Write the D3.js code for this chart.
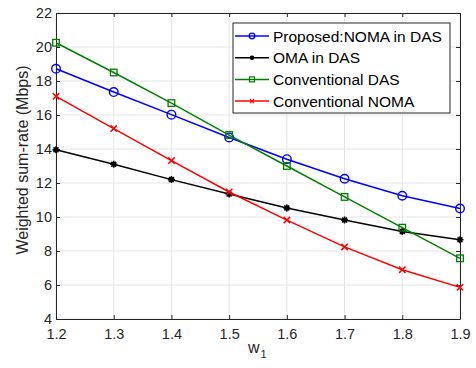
<!DOCTYPE html>
<html>
<head>
<meta charset="utf-8">
<script src="https://cdn.jsdelivr.net/npm/d3@7"></script>
<style>
body { margin: 0; background: #fff; }
text { font-family: "Liberation Sans", Arial, sans-serif; }
</style>
</head>
<body>
<div id="chart"></div>
<script>
// data
let wValues = [1.2, 1.3, 1.4, 1.5, 1.6, 1.7, 1.8, 1.9];
let nomaDas = [18.72, 17.35, 16.02, 14.68, 13.4, 12.25, 11.25, 10.5];
let omaDas = [13.95, 13.1, 12.2, 11.35, 10.53, 9.82, 9.15, 8.66];
let convDas = [20.25, 18.5, 16.7, 14.82, 13.0, 11.18, 9.37, 7.57];
let convNoma = [17.1, 15.2, 13.32, 11.47, 9.82, 8.24, 6.9, 5.86];
let xTicks = [1.2, 1.3, 1.4, 1.5, 1.6, 1.7, 1.8, 1.9];
let yTicks = [4, 6, 8, 10, 12, 14, 16, 18, 20, 22];
let seriesNames = ["Proposed:NOMA in DAS", "OMA in DAS", "Conventional DAS", "Conventional NOMA"];

let w = 476;
let h = 368;
let padL = 56, padR = 460, padT = 13, padB = 319;

let svg = d3.select("#chart")
  .append("svg")
  .attr("width", w)
  .attr("height", h);

let x = d3.scaleLinear().domain([1.2, 1.9]).range([padL, padR]);
let y = d3.scaleLinear().domain([4, 22]).range([padB, padT]);

// grid
svg.append("g")
  .selectAll("line")
  .data(xTicks)
  .enter()
  .append("line")
  .attr("x1", d => x(d)).attr("x2", d => x(d))
  .attr("y1", padT).attr("y2", padB)
  .attr("stroke", "#e6e6e6").attr("stroke-width", 1);
svg.append("g")
  .selectAll("line")
  .data(yTicks)
  .enter()
  .append("line")
  .attr("x1", padL).attr("x2", padR)
  .attr("y1", d => y(d)).attr("y2", d => y(d))
  .attr("stroke", "#e6e6e6").attr("stroke-width", 1);

// axes (ticks inward, box)
let axisColor = "#262626";
let bottomAxis = svg.append("g")
  .attr("transform", "translate(0," + padB + ")")
  .call(d3.axisBottom(x).tickValues(xTicks).tickFormat(d3.format(".1f")).tickSizeInner(-4).tickSizeOuter(0).tickPadding(10));
let leftAxis = svg.append("g")
  .attr("transform", "translate(" + padL + ",0)")
  .call(d3.axisLeft(y).tickValues(yTicks).tickSizeInner(-4).tickSizeOuter(0).tickPadding(4));
let topAxis = svg.append("g")
  .attr("transform", "translate(0," + padT + ")")
  .call(d3.axisTop(x).tickValues(xTicks).tickFormat("").tickSizeInner(-4).tickSizeOuter(0));
let rightAxis = svg.append("g")
  .attr("transform", "translate(" + padR + ",0)")
  .call(d3.axisRight(y).tickValues(yTicks).tickFormat("").tickSizeInner(-4).tickSizeOuter(0));

[bottomAxis, leftAxis, topAxis, rightAxis].forEach(g => {
  g.selectAll("path").attr("stroke", axisColor).attr("stroke-width", 1);
  g.selectAll("line").attr("stroke", axisColor);
  g.selectAll("text").attr("fill", axisColor).style("font-size", "14.5px").style("font-family", "Liberation Sans, Arial, sans-serif");
});

// series
let series = [
  { name: seriesNames[0], values: nomaDas, color: "#0000ff", marker: "circle" },
  { name: seriesNames[1], values: omaDas, color: "#000000", marker: "star" },
  { name: seriesNames[2], values: convDas, color: "#008000", marker: "square" },
  { name: seriesNames[3], values: convNoma, color: "#ff0000", marker: "cross" }
];

let line = d3.line()
  .x((d, i) => x(wValues[i]))
  .y(d => y(d));

function drawMarker(g, type, cx, cy, color) {
  if (type == "circle") {
    g.append("circle").attr("cx", cx).attr("cy", cy).attr("r", 4.3)
      .attr("fill", "none").attr("stroke", color).attr("stroke-width", 1.4);
  } else if (type == "square") {
    g.append("rect").attr("x", cx - 3.3).attr("y", cy - 3.3).attr("width", 6.6).attr("height", 6.6)
      .attr("fill", "none").attr("stroke", color).attr("stroke-width", 1.3);
  } else if (type == "cross") {
    let s = 3.2;
    g.append("path").attr("d", "M" + (cx - s) + "," + (cy - s) + "L" + (cx + s) + "," + (cy + s) + "M" + (cx - s) + "," + (cy + s) + "L" + (cx + s) + "," + (cy - s))
      .attr("stroke", color).attr("stroke-width", 1.5);
  } else if (type == "star") {
    let s = 3.5;
    let d = "M" + (cx - s) + "," + cy + "L" + (cx + s) + "," + cy +
      "M" + cx + "," + (cy - s) + "L" + cx + "," + (cy + s) +
      "M" + (cx - s * 0.7) + "," + (cy - s * 0.7) + "L" + (cx + s * 0.7) + "," + (cy + s * 0.7) +
      "M" + (cx - s * 0.7) + "," + (cy + s * 0.7) + "L" + (cx + s * 0.7) + "," + (cy - s * 0.7);
    g.append("path").attr("d", d).attr("stroke", color).attr("stroke-width", 1.6);
    g.append("circle").attr("cx", cx).attr("cy", cy).attr("r", 2.4).attr("fill", color);
  }
}

series.forEach(s => {
  svg.append("path")
    .datum(s.values)
    .attr("d", line)
    .attr("fill", "none")
    .attr("stroke", s.color)
    .attr("stroke-width", 1.5);
  let mg = svg.append("g");
  s.values.forEach((v, i) => drawMarker(mg, s.marker, x(wValues[i]), y(v), s.color));
});

// legend
let legend = svg.append("g");
legend.append("rect")
  .attr("x", 233).attr("y", 23).attr("width", 217).attr("height", 90)
  .attr("fill", "#fff").attr("stroke", axisColor).attr("stroke-width", 1);
series.forEach((s, i) => {
  let ly = 36 + i * 21.7;
  legend.append("line")
    .attr("x1", 235).attr("x2", 269).attr("y1", ly).attr("y2", ly)
    .attr("stroke", s.color).attr("stroke-width", 1.5);
  let lg = legend.append("g");
  if (s.marker == "circle") {
    lg.append("circle").attr("cx", 252).attr("cy", ly).attr("r", 2.8)
      .attr("fill", "none").attr("stroke", s.color).attr("stroke-width", 1.3);
  } else if (s.marker == "square") {
    lg.append("rect").attr("x", 249.5).attr("y", ly - 2.5).attr("width", 5).attr("height", 5)
      .attr("fill", "none").attr("stroke", s.color).attr("stroke-width", 1.2);
  } else if (s.marker == "cross") {
    lg.append("path").attr("d", "M250,"+(ly-2)+"L254,"+(ly+2)+"M250,"+(ly+2)+"L254,"+(ly-2))
      .attr("stroke", s.color).attr("stroke-width", 1.3);
  } else {
    lg.append("circle").attr("cx", 252).attr("cy", ly).attr("r", 2.3).attr("fill", s.color);
  }
  legend.append("text")
    .attr("x", 273).attr("y", ly + 5.5)
    .style("font-size", "15.5px")
    .attr("fill", "#000")
    .text(s.name);
});

// axis labels
svg.append("text")
  .attr("transform", "translate(28," + ((padT + padB) / 2 - 6) + ") rotate(-90)")
  .attr("text-anchor", "middle")
  .style("font-size", "16px")
  .attr("fill", axisColor)
  .text("Weighted sum-rate (Mbps)");

let xl = svg.append("text")
  .attr("x", 248).attr("y", 353)
  .style("font-size", "16px")
  .attr("fill", axisColor);
xl.append("tspan").text("w");
xl.append("tspan").attr("dy", 5).attr("dx", 1).style("font-size", "11px").text("1");
</script>
</body>
</html>
